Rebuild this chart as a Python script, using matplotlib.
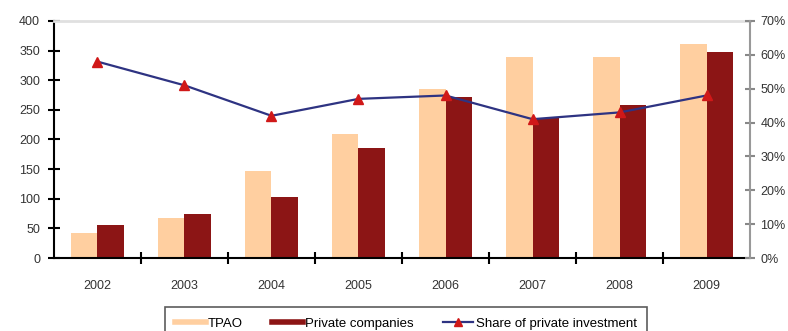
import numpy as np
import matplotlib.pyplot as plt
from matplotlib.lines import Line2D

years = ['2002', '2003', '2004', '2005', '2006', '2007', '2008', '2009']
tpao = [42, 67, 146, 210, 285, 340, 340, 362]
private = [55, 75, 103, 186, 272, 237, 259, 348]
share = [58, 51, 42, 47, 48, 41, 43, 48]

plt.rcParams['font.family'] = ['Liberation Sans', 'DejaVu Sans']

c_tpao = '#FFCFA0'
c_priv = '#8C1515'
c_line = '#2E3382'
c_mark = '#D01818'

fig = plt.figure(figsize=(7.88, 3.31), dpi=100)
ax = fig.add_axes([0.0685, 0.2205, 0.8833, 0.7161])

x = np.arange(len(years))
w = 0.3
ax.bar(x - w / 2, tpao, w, color=c_tpao, zorder=2)
ax.bar(x + w / 2, private, w, color=c_priv, zorder=2)

ax.set_xlim(-0.5, 7.5)
ax.set_ylim(0, 400)
ax.set_yticks(range(0, 401, 50))
ax.set_xticks(x)
ax.set_xticklabels(years)
ax.set_xticks(np.arange(-0.5, 8, 1)[1:-1], minor=True)
ax.tick_params(axis='x', which='major', length=0, pad=16, labelsize=9, labelcolor='#333333')
ax.tick_params(axis='x', which='minor', direction='inout', length=8, width=1.5, color='black')
ax.tick_params(axis='y', direction='inout', length=8, width=1.5, color='black',
               labelsize=9, labelcolor='#333333', pad=6)

ax.spines['left'].set_linewidth(1.5)
ax.spines['bottom'].set_linewidth(1.5)
ax.spines['top'].set_color('#e0e0e0')
ax.spines['top'].set_linewidth(2)
ax.spines['right'].set_visible(False)

ax2 = ax.twinx()
ax2.plot(x, share, color=c_line, lw=1.6, zorder=3)
ax2.plot(x, share, ls='none', marker='^', ms=7, color=c_mark, zorder=4)
ax2.set_ylim(0, 70)
ax2.set_yticks(range(0, 71, 10))
ax2.set_yticklabels([f'{v}%' for v in range(0, 71, 10)])
ax2.tick_params(axis='y', direction='inout', length=7, width=1.5, color='#888888',
                labelsize=9, labelcolor='#333333', pad=4)
for s in ['left', 'top', 'bottom']:
    ax2.spines[s].set_visible(False)
ax2.spines['right'].set_color('#999999')
ax2.spines['right'].set_linewidth(1.5)

handles = [
    Line2D([], [], color=c_tpao, lw=4),
    Line2D([], [], color=c_priv, lw=4),
    Line2D([], [], color=c_line, lw=1.6, marker='^', ms=6, mfc=c_mark, mec=c_mark),
]
labels = ['TPAO', 'Private companies', 'Share of private investment']
leg = fig.legend(handles, labels, loc='upper left', bbox_to_anchor=(0.209, 0.0725),
                 ncol=3, fontsize=9.5, frameon=True, fancybox=False, handlelength=2.3,
                 columnspacing=2.2, handletextpad=0.2, borderpad=0.8, borderaxespad=0)
leg.get_frame().set_edgecolor('#333333')
leg.get_frame().set_linewidth(1.2)

fig.savefig('out.png', dpi=100)
